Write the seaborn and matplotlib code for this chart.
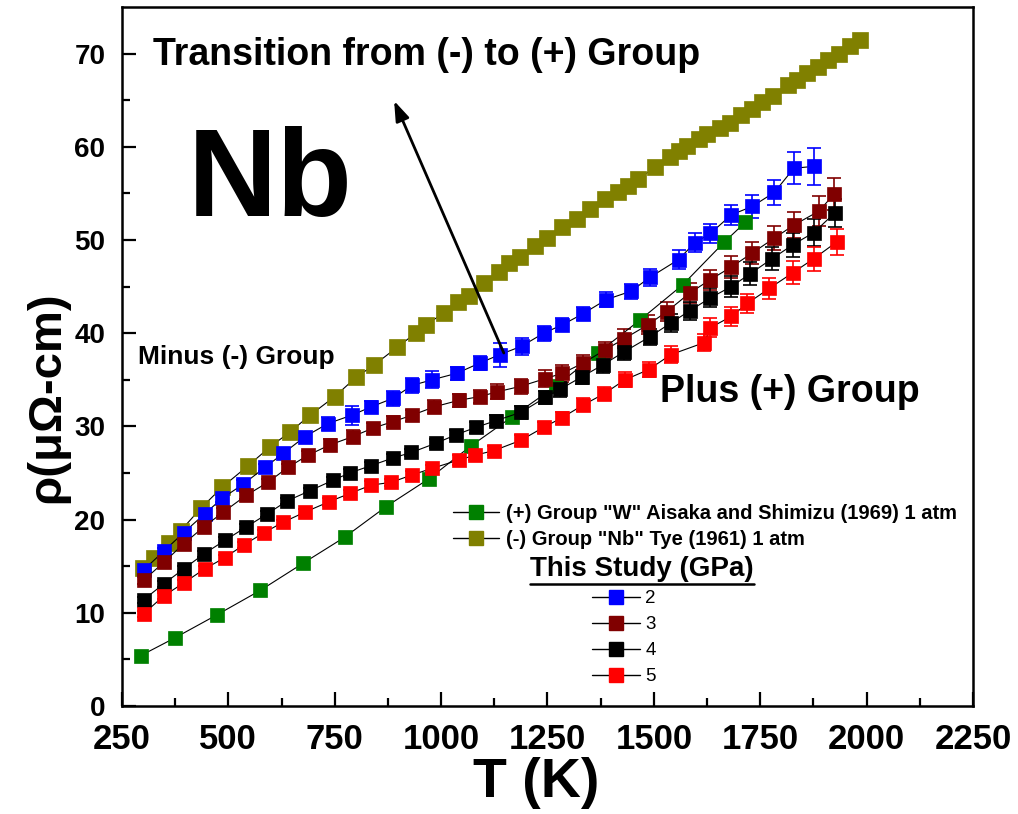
import matplotlib
matplotlib.use("Agg")
import matplotlib.pyplot as plt
import seaborn as sns
import numpy as np
from matplotlib.lines import Line2D

# ---------------- data ----------------
T_tye = [300, 325, 360, 388, 435, 486, 547, 598, 645, 692, 750, 801, 843, 897, 940, 965,
         1007, 1040, 1065, 1100, 1135, 1160, 1185, 1220, 1250, 1285, 1320, 1350, 1385,
         1416, 1440, 1463, 1502, 1537, 1560, 1579, 1605, 1626, 1655, 1680, 1705, 1730,
         1755, 1780, 1815, 1836, 1860, 1885, 1910, 1935, 1960, 1984]
rho_tye = [14.8, 15.9, 17.5, 18.8, 21.2, 23.5, 25.8, 27.8, 29.4, 31.2, 33.2, 35.3, 36.6,
           38.5, 40.0, 40.9, 42.2, 43.3, 44.0, 45.4, 46.6, 47.5, 48.2, 49.4, 50.2, 51.4,
           52.3, 53.3, 54.4, 55.2, 55.8, 56.5, 57.8, 58.9, 59.6, 60.1, 60.8, 61.4, 62.0,
           62.6, 63.4, 64.1, 64.8, 65.4, 66.6, 67.2, 67.9, 68.6, 69.3, 70.0, 70.8, 71.5]

T_w = [294, 374, 474, 575, 675, 773, 871, 972, 1070, 1166, 1269, 1369, 1467, 1568, 1666, 1715]
rho_w = [5.4, 7.3, 9.8, 12.4, 15.3, 18.1, 21.4, 24.4, 27.9, 31.0, 34.3, 37.9, 41.4, 45.2, 49.8, 51.9]

T_2 = [301, 348, 395, 444, 486, 535, 586, 629, 680, 734, 790, 836, 886, 932, 979, 1037,
       1091, 1138, 1189, 1241, 1285, 1334, 1388, 1446, 1491, 1558, 1596, 1633, 1682, 1731,
       1783, 1829, 1876]
rho_2 = [14.6, 16.6, 18.6, 20.6, 22.3, 23.8, 25.6, 27.1, 28.9, 30.3, 31.2, 32.1, 33.0, 34.4,
         35.0, 35.7, 36.8, 37.7, 38.6, 40.0, 40.9, 42.1, 43.6, 44.5, 46.0, 47.9, 49.7, 50.7,
         52.7, 53.6, 55.1, 57.7, 57.9]
err_2 = [0.3, 0.3, 0.3, 0.3, 0.4, 0.5, 0.4, 0.4, 0.4, 0.7, 1.0, 0.6, 0.8, 0.8, 0.9, 0.7,
         0.8, 1.3, 0.9, 0.8, 0.7, 0.7, 0.8, 0.8, 0.9, 1.0, 1.0, 1.0, 1.1, 1.2, 1.3, 1.7, 2.0]

T_3 = [301, 348, 395, 442, 488, 542, 593, 640, 687, 738, 792, 839, 886, 932, 984, 1042,
       1091, 1131, 1187, 1243, 1285, 1334, 1385, 1430, 1486, 1530, 1584, 1631, 1682, 1731,
       1783, 1829, 1888, 1923]
rho_3 = [13.5, 15.4, 17.4, 19.2, 20.8, 22.6, 24.0, 25.6, 26.9, 28.0, 28.9, 29.8, 30.5, 31.2,
         32.1, 32.8, 33.2, 33.7, 34.3, 35.1, 35.7, 36.8, 38.2, 39.4, 40.9, 42.3, 44.3, 45.7,
         47.1, 48.6, 50.2, 51.6, 53.1, 54.9]
err_3 = [0.4, 0.4, 0.4, 0.4, 0.4, 0.4, 0.4, 0.4, 0.5, 0.6, 0.7, 0.6, 0.6, 0.6, 0.7, 0.7,
         0.7, 0.8, 0.8, 0.9, 0.9, 0.9, 0.9, 1.0, 1.0, 1.0, 1.1, 1.1, 1.2, 1.2, 1.3, 1.4, 1.6, 1.7]

T_4 = [301, 348, 395, 442, 493, 542, 591, 638, 692, 745, 785, 836, 886, 930, 988, 1035,
       1082, 1128, 1187, 1245, 1280, 1330, 1380, 1430, 1490, 1540, 1584, 1633, 1682, 1727,
       1778, 1827, 1876, 1925]
rho_4 = [11.4, 13.1, 14.7, 16.3, 17.8, 19.2, 20.6, 22.0, 23.1, 24.2, 25.0, 25.8, 26.6, 27.2,
         28.2, 29.1, 29.9, 30.6, 31.5, 33.1, 34.0, 35.3, 36.6, 38.0, 39.6, 41.1, 42.4, 43.8,
         45.0, 46.4, 48.0, 49.5, 50.8, 52.9]
err_4 = [0.3, 0.3, 0.3, 0.3, 0.3, 0.3, 0.3, 0.3, 0.3, 0.4, 0.4, 0.4, 0.4, 0.4, 0.5, 0.5,
         0.6, 0.6, 0.7, 0.7, 0.8, 0.8, 0.9, 0.9, 0.9, 1.0, 1.0, 1.0, 1.1, 1.2, 1.2, 1.3, 1.4, 1.5]

T_5 = [301, 348, 395, 444, 491, 537, 584, 628, 680, 736, 785, 836, 883, 932, 979, 1042,
       1079, 1124, 1187, 1241, 1283, 1334, 1383, 1432, 1488, 1540, 1619, 1633, 1682, 1720,
       1771, 1827, 1876, 1930]
rho_5 = [9.9, 11.8, 13.2, 14.7, 15.9, 17.3, 18.6, 19.7, 20.8, 21.9, 22.8, 23.7, 24.0, 24.8,
         25.5, 26.4, 26.9, 27.4, 28.5, 29.9, 30.9, 32.3, 33.5, 35.0, 36.1, 37.7, 39.0, 40.6,
         41.8, 43.2, 44.8, 46.5, 48.0, 49.8]
err_5 = [0.3, 0.3, 0.3, 0.3, 0.3, 0.3, 0.3, 0.3, 0.3, 0.4, 0.4, 0.4, 0.4, 0.4, 0.4, 0.5,
         0.5, 0.5, 0.6, 0.6, 0.6, 0.7, 0.7, 0.8, 0.8, 0.9, 0.9, 1.0, 1.0, 1.0, 1.1, 1.2, 1.3, 1.4]

ref_labels = ['(+) Group "W" Aisaka and Shimizu (1969) 1 atm', '(-) Group "Nb" Tye (1961) 1 atm']
study_labels = ["2", "3", "4", "5"]
x_ticks = [250, 500, 750, 1000, 1250, 1500, 1750, 2000, 2250]
y_ticks = [0, 10, 20, 30, 40, 50, 60, 70]

C_OLIVE = "#808000"
C_GREEN = "#008000"
C_BLUE = "#0000FF"
C_DRED = "#800000"
C_BLACK = "#000000"
C_RED = "#FF0000"

# ---------------- style ----------------
sns.set_theme(style="ticks")
plt.rcParams["font.family"] = ["Liberation Sans", "DejaVu Sans"]
plt.rcParams["font.weight"] = "bold"
for k in ("text.color", "axes.labelcolor", "xtick.color", "ytick.color", "axes.edgecolor"):
    plt.rcParams[k] = "black"

fig = plt.figure(figsize=(10.18, 8.14), dpi=100)
ax = fig.add_axes([0.1198, 0.1327, 0.9558 - 0.1198, 0.9914 - 0.1327])

MS = 10


def series(T, rho, col, err=None, ms=MS):
    if err is not None:
        ax.errorbar(T, rho, yerr=err, fmt="none", ecolor=col, elinewidth=1.2,
                    capsize=5, capthick=1.2, zorder=2)
    sns.lineplot(x=T, y=rho, ax=ax, color="black", lw=0.8, marker="s", markersize=ms,
                 markerfacecolor=col, markeredgecolor=col, markeredgewidth=0.5,
                 estimator=None, sort=False, legend=False, zorder=3)


series(T_tye, rho_tye, C_OLIVE, ms=11.5)
series(T_w, rho_w, C_GREEN)
series(T_2, rho_2, C_BLUE, err_2)
series(T_3, rho_3, C_DRED, err_3)
series(T_4, rho_4, C_BLACK, err_4)
series(T_5, rho_5, C_RED, err_5)

ax.set_xlim(250, 2250)
ax.set_ylim(0, 75)
ax.set_xticks(x_ticks)
ax.set_yticks(y_ticks)
ax.set_xticks(np.arange(375, 2250, 250), minor=True)
ax.set_yticks(np.arange(5, 75, 10), minor=True)
ax.tick_params(axis="both", which="major", direction="in", length=10, width=1.6,
               top=False, right=False, colors="black")
ax.tick_params(axis="both", which="minor", direction="in", length=6, width=1.6,
               top=False, right=False, colors="black")
ax.tick_params(axis="x", which="major", labelsize=25, pad=12)
ax.tick_params(axis="y", which="major", labelsize=20, pad=12)
for lab in ax.get_xticklabels() + ax.get_yticklabels():
    lab.set_fontweight("bold")
for sp in ax.spines.values():
    sp.set_linewidth(1.8)
    sp.set_color("black")

ax.set_xlabel("T (K)", fontsize=40, fontweight="bold")
ax.set_ylabel("ρ(μΩ-cm)", fontsize=34, fontweight="bold")
ax.xaxis.set_label_coords(0.487, -0.073)
ax.yaxis.set_label_coords(-0.062, 0.442)

# ---------------- annotations ----------------
ax.text(323, 69.8, "Transition from (-) to (+) Group", fontsize=27, fontweight="bold",
        ha="left", va="center")
ax.text(598, 52.6, "Nb", fontsize=89, fontweight="bold", ha="center", va="baseline")
ax.text(288, 37.4, "Minus (-) Group", fontsize=19, fontweight="bold", ha="left", va="center")
ax.text(1514, 33.7, "Plus (+) Group", fontsize=27, fontweight="bold", ha="left", va="center")
ax.annotate("", xy=(887, 65.2), xytext=(1150, 37.6),
            arrowprops=dict(arrowstyle="-|>,head_length=1.0,head_width=0.35",
                            color="black", lw=2))

# ---------------- legends ----------------
h_ref = [Line2D([], [], color="black", lw=1, marker="s", markersize=9.5,
                markerfacecolor=c, markeredgecolor=c) for c in (C_GREEN, C_OLIVE)]
leg1 = ax.legend(h_ref, ref_labels, loc="upper left", bbox_to_anchor=(0.389, 0.289),
                 frameon=False, borderpad=0, borderaxespad=0, handlelength=2.3,
                 handletextpad=0.35, labelspacing=0.35,
                 prop=dict(family="Liberation Sans", weight="bold", size=14.5))
ax.add_artist(leg1)

h_st = [Line2D([], [], color="black", lw=1, marker="s", markersize=9.5,
               markerfacecolor=c, markeredgecolor=c) for c in (C_BLUE, C_DRED, C_BLACK, C_RED)]
leg2 = ax.legend(h_st, study_labels, loc="upper left", bbox_to_anchor=(0.552, 0.166),
                 frameon=False, borderpad=0, borderaxespad=0, handlelength=2.55,
                 handletextpad=0.3, labelspacing=0.48,
                 prop=dict(family="Liberation Sans", weight="normal", size=13.5))
for t in leg2.get_texts():
    t.set_color("black")

title = ax.text(0.611, 0.196, "This Study (GPa)", transform=ax.transAxes, fontsize=20,
                fontweight="bold", ha="center", va="center")
fig.canvas.draw()
bb = title.get_window_extent().transformed(fig.transFigure.inverted())
fig.add_artist(Line2D([bb.x0, bb.x1], [bb.y0 - 0.002, bb.y0 - 0.002],
                      transform=fig.transFigure, color="black", lw=1.8))

fig.savefig("out.png", dpi=100)
